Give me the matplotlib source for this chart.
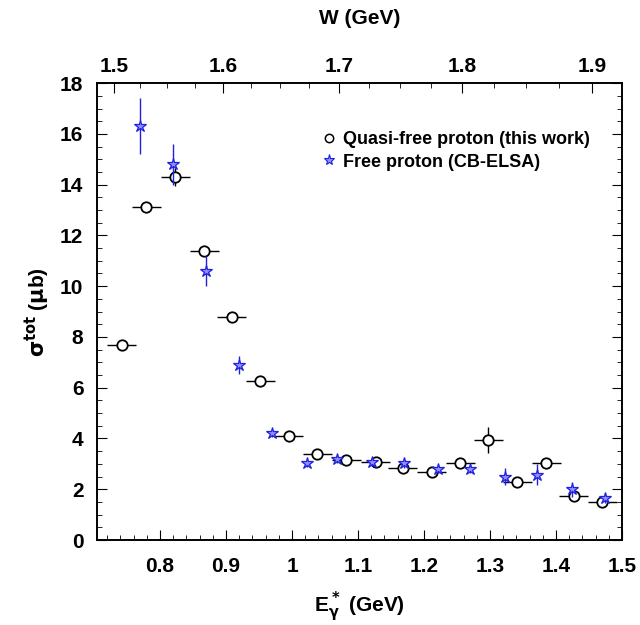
import numpy as np
import matplotlib.pyplot as plt
from matplotlib.ticker import MultipleLocator
from matplotlib.lines import Line2D

plt.rcParams.update({
    "font.family": ["Liberation Sans", "DejaVu Sans"],
    "font.weight": "bold",
    "font.size": 13,
    "axes.linewidth": 1.2,
    "xtick.direction": "in",
    "ytick.direction": "in",
    "xtick.major.size": 7,
    "ytick.major.size": 7,
    "xtick.minor.size": 3.5,
    "ytick.minor.size": 3.5,
    "mathtext.default": "bf",
})

# quasi-free proton (this work)
e_qf = [0.742, 0.779, 0.823, 0.867, 0.909, 0.952, 0.995, 1.038, 1.082, 1.127,
        1.168, 1.212, 1.255, 1.297, 1.341, 1.385, 1.427, 1.470]
s_qf = [7.68, 13.1, 14.3, 11.4, 8.8, 6.26, 4.1, 3.4, 3.15, 3.07,
        2.83, 2.68, 3.03, 3.94, 2.28, 3.03, 1.73, 1.5]
ds_qf = [0.12, 0.15, 0.35, 0.2, 0.15, 0.12, 0.1, 0.1, 0.1, 0.1,
         0.1, 0.1, 0.12, 0.5, 0.12, 0.15, 0.12, 0.12]
de_qf = [0.022] * len(e_qf)

# free proton (CB-ELSA)
e_fp = [0.770, 0.820, 0.870, 0.920, 0.970, 1.023, 1.068, 1.121, 1.170, 1.221,
        1.270, 1.323, 1.371, 1.424, 1.474]
s_fp = [16.3, 14.8, 10.6, 6.9, 4.2, 3.03, 3.2, 3.07, 3.05, 2.8,
        2.8, 2.5, 2.58, 2.0, 1.65]
ds_fp = [1.1, 0.8, 0.6, 0.35, 0.15, 0.15, 0.15, 0.15, 0.2, 0.15,
         0.15, 0.35, 0.4, 0.3, 0.2]

w_ticks = [1.5, 1.6, 1.7, 1.8, 1.9]
w_minor = [1.5, 1.525, 1.55, 1.575, 1.6, 1.625, 1.65, 1.675, 1.7, 1.725,
           1.75, 1.775, 1.8, 1.825, 1.85, 1.875, 1.9, 1.925]

mp = 0.938272


def w_to_e(w):
    return (np.asarray(w, dtype=float)**2 - mp**2) / (2 * mp)


fig = plt.figure(figsize=(6.4, 6.25), dpi=100)
ax = fig.add_axes([0.152, 0.136, 0.82, 0.731])

ax.errorbar(e_qf, s_qf, xerr=de_qf, yerr=ds_qf, fmt='o', ms=7.5, mfc='white',
            mec='black', mew=1.3, ecolor='black', elinewidth=1.0, capsize=0,
            zorder=3)
ax.errorbar(e_fp, s_fp, yerr=ds_fp, fmt='*', ms=9, mfc='#9090ff',
            mec='#2020e0', mew=0.9, ecolor='#2020e0', elinewidth=1.0,
            capsize=0, zorder=4)

ax.set_xlim(0.705, 1.5)
ax.set_ylim(0, 18)
ax.xaxis.set_minor_locator(MultipleLocator(0.02))
ax.yaxis.set_major_locator(MultipleLocator(2))
ax.yaxis.set_minor_locator(MultipleLocator(0.5))
ax.set_xticks([0.8, 0.9, 1.0, 1.1, 1.2, 1.3, 1.4, 1.5])
ax.set_xticklabels(['0.8', '0.9', '1', '1.1', '1.2', '1.3', '1.4', '1.5'])
ax.tick_params(which='both', right=True, labelsize=15)
ax.tick_params(axis='x', which='both', top=False, pad=12)
ax.tick_params(axis='y', pad=10)

# top axis in W
top = ax.twiny()
top.set_xlim(ax.get_xlim())
top.set_xticks(w_to_e(w_ticks))
top.set_xticklabels([str(w) for w in w_ticks])
top.set_xticks([e for e in w_to_e(w_minor) if e <= 1.5], minor=True)
top.tick_params(which='both', direction='in', labelsize=15, pad=5)
top.tick_params(which='major', length=7)
top.tick_params(which='minor', length=3.5)
top.set_xlabel('W (GeV)', fontsize=15, fontweight='bold', labelpad=24)

ax.set_xlabel(r'E$^*_\gamma$ (GeV)', fontsize=15, fontweight='bold',
              labelpad=10)
ax.set_ylabel(r'$\sigma^{tot}$ ($\mu$b)', fontsize=15, fontweight='bold',
              labelpad=6)

handles = [
    Line2D([], [], ls='none', marker='o', ms=6, mfc='white', mec='black',
           mew=1.1),
    Line2D([], [], ls='none', marker='*', ms=8, mfc='#9090ff',
           mec='#2020e0', mew=0.8),
]
ax.legend(handles, ['Quasi-free proton (this work)', 'Free proton (CB-ELSA)'],
          loc='upper left', bbox_to_anchor=(0.39, 0.93), frameon=False,
          fontsize=13, handletextpad=0.2, handlelength=1.2, labelspacing=0.3)

fig.savefig('out.png', dpi=100)
